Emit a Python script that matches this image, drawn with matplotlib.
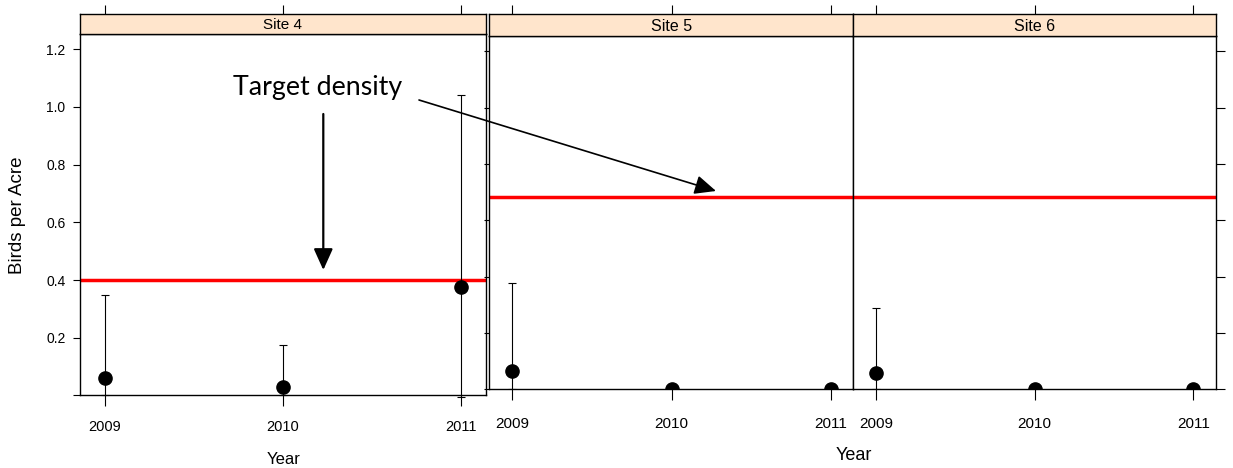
import matplotlib
matplotlib.use("Agg")
import matplotlib.pyplot as plt
from matplotlib.patches import FancyArrowPatch
from matplotlib.ticker import FixedLocator

# ---- data ----
years = [2009, 2010, 2011]
year_labels = ["2009", "2010", "2011"]

site4_mean = [0.061, 0.029, 0.377]
site4_lower = [0.0, 0.0, -0.005]
site4_upper = [0.347, 0.175, 1.04]

site5_mean = [0.066, 0.0, 0.0]
site5_lower = [0.0, 0.0, 0.0]
site5_upper = [0.377, 0.0, 0.0]

site6_mean = [0.057, 0.0, 0.0]
site6_lower = [0.0, 0.0, 0.0]
site6_upper = [0.290, 0.0, 0.0]

target_site4 = 0.40
target_site56 = 0.684

y_ticks = [0.2, 0.4, 0.6, 0.8, 1.0, 1.2]
y_tick_labels = ["0.2", "0.4", "0.6", "0.8", "1.0", "1.2"]

W, H = 1233, 468
STRIP = "#FFE5CC"
plt.rcParams["font.family"] = ["Liberation Sans", "DejaVu Sans"]

fig = plt.figure(figsize=(W / 100, H / 100), dpi=100)


def box(left, top, right, bottom):
    """Pixel box (origin top-left) -> figure-fraction rect."""
    return [left / W, 1 - bottom / H, (right - left) / W, (bottom - top) / H]


def fpt(x, y):
    return (x / W, 1 - y / H)


XLIM = (2008.857, 2011.14)


def panel(rect, ylim, mean, lo, hi, target, clip, left_labels, tick_fs,
          xpad, right_len=7, left_len=7):
    ax = fig.add_axes(rect)
    ax.set_xlim(*XLIM)
    ax.set_ylim(*ylim)
    for s in ax.spines.values():
        s.set_linewidth(1.0)
    ax.axhline(target, color="#FF0000", lw=2.5, zorder=2)
    yerr = [[m - l for m, l in zip(mean, lo)], [u - m for m, u in zip(mean, hi)]]
    eb = ax.errorbar(years, mean, yerr=yerr, fmt="o", color="black", ms=9.5,
                     elinewidth=0.8, capsize=3, capthick=0.8, zorder=3)
    for art in eb.lines[1] + eb.lines[2]:
        art.set_clip_on(clip)
    eb.lines[0].set_clip_on(clip)
    ax.xaxis.set_major_locator(FixedLocator(years))
    ax.set_xticklabels(year_labels, fontsize=tick_fs)
    ax.yaxis.set_major_locator(FixedLocator([0.0] + y_ticks))
    if left_labels:
        ax.set_yticklabels([""] + y_tick_labels, fontsize=10)
    else:
        ax.set_yticklabels([])
    ax.tick_params(axis="x", direction="out", length=8, width=0.8, pad=xpad,
                   top=False, bottom=True)
    ax.tick_params(axis="y", which="major", direction="out", width=0.8,
                   left=left_len > 0, right=right_len > 0,
                   labelleft=left_labels, pad=6.5)
    for t in ax.yaxis.get_major_ticks():
        t.tick1line.set_markersize(left_len * 0.72)
        t.tick2line.set_markersize(right_len * 0.72)
    return ax


def strip(rect, label, fs, tick_years):
    ax = fig.add_axes(rect)
    ax.set_facecolor(STRIP)
    ax.set_xlim(*XLIM)
    ax.set_ylim(0, 1)
    ax.set_yticks([])
    ax.xaxis.set_major_locator(FixedLocator(tick_years))
    ax.tick_params(axis="x", direction="out", length=6.5, width=0.8,
                   bottom=False, top=True, labelbottom=False, labeltop=False)
    for s in ax.spines.values():
        s.set_linewidth(1.0)
    ax.text(0.5, 0.45, label, transform=ax.transAxes, ha="center",
            va="center", fontsize=fs)
    return ax


# ---- Site 4 (left lattice plot) ----
ax4 = panel(box(79.5, 34, 486, 395.4), (0, 1.253), site4_mean, site4_lower,
            site4_upper, target_site4, clip=False, left_labels=True,
            tick_fs=10.5, xpad=10, left_len=7.5, right_len=0)
strip(box(79.5, 13.5, 486, 34), "Site 4", 11, years)
fig.text(18 / W, 1 - 215 / H, "Birds per Acre", ha="center", va="center",
         rotation=90, fontsize=13.5)
fig.text(283.7 / W, 1 - 459 / H, "Year", ha="center", va="center",
         fontsize=12)

# ---- Sites 5 and 6 (right lattice plot) ----
ax5 = panel(box(489.3, 36, 853.3, 389.3), (0, 1.255), site5_mean, site5_lower,
            site5_upper, target_site56, clip=True, left_labels=False,
            tick_fs=11, xpad=12, left_len=5, right_len=0)
strip(box(489.3, 14.5, 853.3, 36), "Site 5", 11.5, years)
ax6 = panel(box(853.3, 36, 1215.7, 389.3), (0, 1.255), site6_mean, site6_lower,
            site6_upper, target_site56, clip=True, left_labels=False,
            tick_fs=11, xpad=12, left_len=0, right_len=9)
strip(box(853.3, 14.5, 1215.7, 36), "Site 6", 11.5, years)
fig.text(854 / W, 1 - 456 / H, "Year", ha="center", va="center",
         fontsize=13)

# ---- annotation ----
fig.text(233 / W, 1 - 88 / H, "Target density", ha="left", va="center",
         fontsize=19.3, family=["Lato", "DejaVu Sans"])

for (x0, y0), (x1, y1), lw in [((323.3, 114), (323.3, 270), 1.6),
                               ((419, 100), (716, 191), 1.2)]:
    arr = FancyArrowPatch(fpt(x0, y0), fpt(x1, y1), transform=fig.transFigure,
                          arrowstyle="-|>,head_length=1.0,head_width=0.45",
                          mutation_scale=13, color="black", lw=lw,
                          shrinkA=0, shrinkB=0)
    fig.add_artist(arr)

fig.savefig("out.png", dpi=100)
